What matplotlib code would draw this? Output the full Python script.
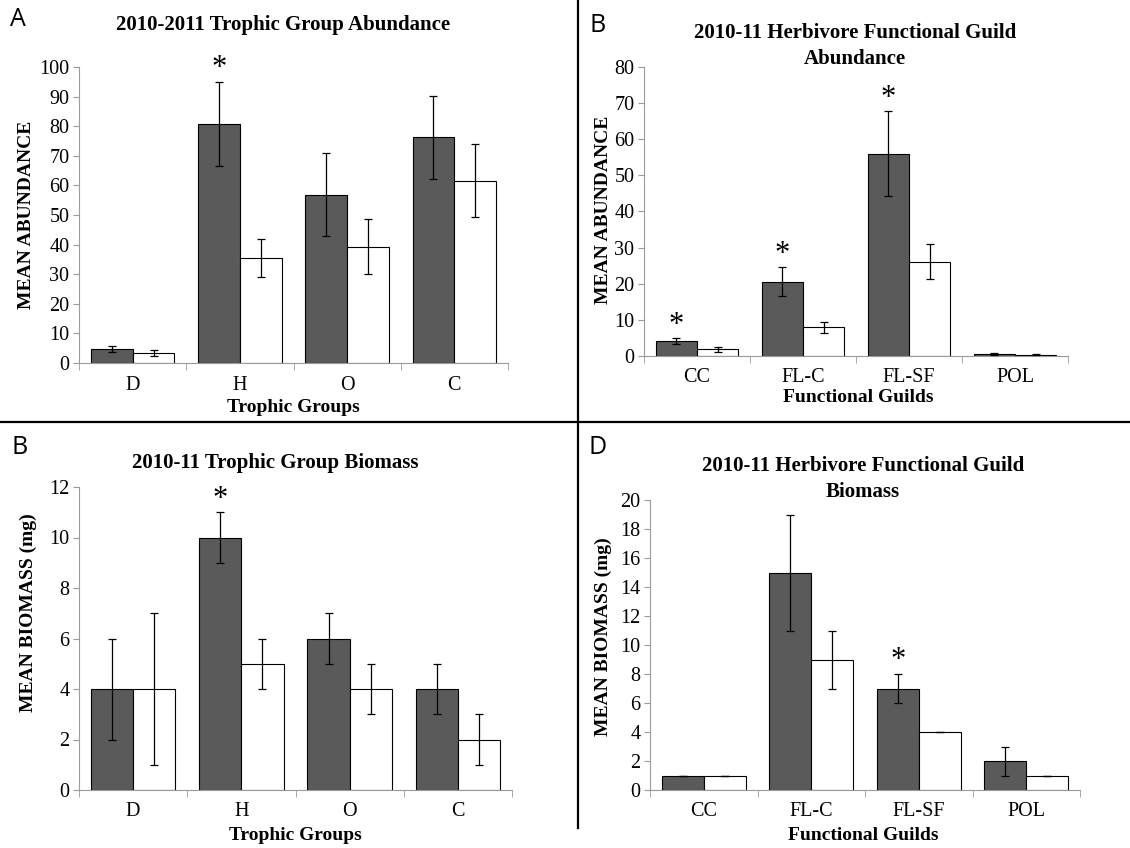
import matplotlib
matplotlib.use("Agg")
import matplotlib.pyplot as plt
import numpy as np

plt.rcParams["font.family"] = ["Liberation Serif", "DejaVu Serif"]

W, H = 1130, 848
DARK = "#5a5a5a"
SPINE = "#9a9a9a"

# panel A: trophic group abundance
troph_groups = ["D", "H", "O", "C"]
abund_dark = [4.7, 80.9, 56.9, 76.2]
abund_dark_err = [1.0, 14.2, 13.9, 14.0]
abund_white = [3.4, 35.6, 39.2, 61.6]
abund_white_err = [1.1, 6.4, 9.3, 12.3]
abund_sig = [False, True, False, False]

# panel B: herbivore guild abundance
guilds = ["CC", "FL-C", "FL-SF", "POL"]
guild_ab_dark = [4.1, 20.6, 56.0, 0.55]
guild_ab_dark_err = [0.8, 4.0, 11.7, 0.15]
guild_ab_white = [1.8, 7.9, 26.1, 0.4]
guild_ab_white_err = [0.6, 1.5, 4.9, 0.1]
guild_ab_sig = [True, True, True, False]

# panel C: trophic group biomass
biom_dark = [4, 10, 6, 4]
biom_dark_err = [2, 1, 1, 1]
biom_white = [4, 5, 4, 2]
biom_white_err = [3, 1, 1, 1]
biom_sig = [False, True, False, False]

# panel D: herbivore guild biomass
guild_bm_dark = [0.97, 15, 7, 2]
guild_bm_dark_err = [0.03, 4, 1, 1]
guild_bm_white = [1.0, 9, 4, 1]
guild_bm_white_err = [0, 2, 0, 0]
guild_bm_sig = [False, False, True, False]


def px_rect(left, right, top, bottom):
    return [left / W, 1 - bottom / H, (right - left) / W, (bottom - top) / H]


def bar_panel(fig, rect, cats, dark, dark_err, white, white_err, sig, ymax, ystep):
    ax = fig.add_axes(rect)
    x = np.arange(len(cats))
    bw = 0.39
    ax.bar(x - bw / 2, dark, bw, color=DARK, edgecolor="black", linewidth=0.8, zorder=2)
    ax.bar(x + bw / 2, white, bw, color="white", edgecolor="black", linewidth=0.8, zorder=2)
    ax.errorbar(x - bw / 2, dark, yerr=dark_err, fmt="none", ecolor="black",
                elinewidth=0.9, capsize=2.6, capthick=0.9, zorder=3)
    ax.errorbar(x + bw / 2, white, yerr=white_err, fmt="none", ecolor="black",
                elinewidth=0.9, capsize=2.6, capthick=0.9, zorder=3)
    for xi, d, e, s in zip(x, dark, dark_err, sig):
        if s:
            ax.annotate("*", (xi - bw / 2, d + e), xytext=(0, -1), textcoords="offset points",
                        ha="center", va="bottom", fontsize=22)
    ax.set_xlim(-0.5, len(cats) - 0.5)
    ax.set_ylim(0, ymax)
    ax.set_yticks(np.arange(0, ymax + ystep / 2, ystep))
    ax.set_xticks(x, cats)
    ax.set_xticks(np.arange(-0.5, len(cats)), minor=True)
    ax.tick_params(axis="x", which="major", length=0, labelsize=14.5, pad=9)
    ax.tick_params(axis="x", which="minor", length=5, color=SPINE)
    ax.tick_params(axis="y", length=4, color=SPINE, labelsize=14.5, pad=3)
    for side in ("top", "right"):
        ax.spines[side].set_visible(False)
    for side in ("left", "bottom"):
        ax.spines[side].set_color(SPINE)
    return ax


fig = plt.figure(figsize=(W / 100, H / 100), dpi=100)

bar_panel(fig, px_rect(79, 508, 67, 363), troph_groups, abund_dark, abund_dark_err,
          abund_white, abund_white_err, abund_sig, 100, 10)
bar_panel(fig, px_rect(644, 1068, 67, 356), guilds, guild_ab_dark, guild_ab_dark_err,
          guild_ab_white, guild_ab_white_err, guild_ab_sig, 80, 10)
bar_panel(fig, px_rect(79, 512, 487, 790), troph_groups, biom_dark, biom_dark_err,
          biom_white, biom_white_err, biom_sig, 12, 2)
bar_panel(fig, px_rect(650, 1080, 500, 790), guilds, guild_bm_dark, guild_bm_dark_err,
          guild_bm_white, guild_bm_white_err, guild_bm_sig, 20, 2)


def ftext(x, y, s, **kw):
    fig.text(x / W, 1 - y / H, s, **kw)


bold = dict(fontweight="bold", ha="center", va="center")
ftext(283, 25, "2010-2011 Trophic Group Abundance", fontsize=15, **bold)
ftext(855, 46, "2010-11 Herbivore Functional Guild\nAbundance", fontsize=15, linespacing=1.45, **bold)
ftext(275, 463, "2010-11 Trophic Group Biomass", fontsize=15, **bold)
ftext(863, 479, "2010-11 Herbivore Functional Guild\nBiomass", fontsize=15, linespacing=1.4, **bold)

ftext(27, 215, "MEAN ABUNDANCE", rotation=90, fontsize=14, **bold)
ftext(603, 210, "MEAN ABUNDANCE", rotation=90, fontsize=14, **bold)
ftext(28, 613, "MEAN BIOMASS (mg)", rotation=90, fontsize=14, **bold)
ftext(603, 637, "MEAN BIOMASS (mg)", rotation=90, fontsize=14, **bold)

ftext(293, 408, "Trophic Groups", fontsize=14, **bold)
ftext(858, 398, "Functional Guilds", fontsize=14, **bold)
ftext(295, 835, "Trophic Groups", fontsize=14, **bold)
ftext(863, 835, "Functional Guilds", fontsize=14, **bold)

panel_font = dict(fontsize=18, family=["Open Sans", "DejaVu Sans"], ha="center", va="center")
ftext(18, 20, "A", **panel_font)
ftext(598, 25, "B", **panel_font)
ftext(20, 447, "B", **panel_font)
ftext(598, 447, "D", **panel_font)

# divider lines
fig.add_artist(plt.Line2D([0, 1], [1 - 422 / H, 1 - 422 / H], color="black", lw=1.6,
                          transform=fig.transFigure))
fig.add_artist(plt.Line2D([578 / W, 578 / W], [1, 1 - 828 / H], color="black", lw=1.6,
                          transform=fig.transFigure))

fig.savefig("out.png", dpi=100)
